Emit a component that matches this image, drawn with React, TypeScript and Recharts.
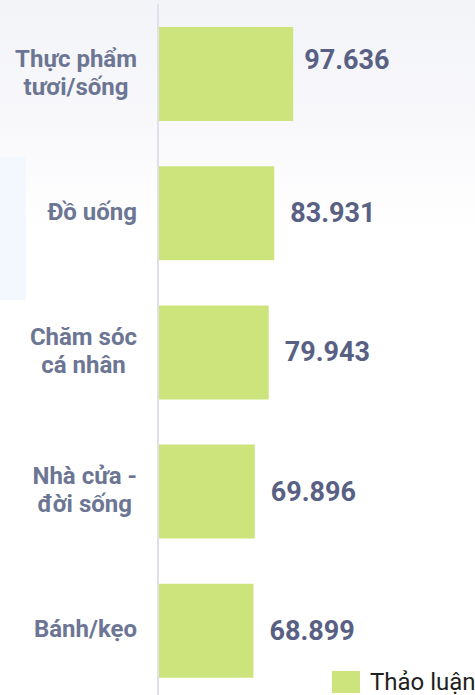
import React from 'react';
import { BarChart, Bar, XAxis, YAxis, LabelList, Legend } from 'recharts';

const categories = ['Thực phẩm tươi/sống', 'Đồ uống', 'Chăm sóc cá nhân', 'Nhà cửa - đời sống', 'Bánh/kẹo'];
const categoryLines = [['Thực phẩm', 'tươi/sống'], ['Đồ uống'], ['Chăm sóc', 'cá nhân'], ['Nhà cửa -', 'đời sống'], ['Bánh/kẹo']];
const discussionValues = [97636, 83931, 79943, 69896, 68899];
const seriesName = 'Thảo luận';

const data = categories.map((c, i) => ({ name: c, value: discussionValues[i] }));

const BAR_COLOR = '#cde47c';
const CAT_COLOR = '#6c7694';
const VAL_COLOR = '#586083';
const FONT = 'Roboto, "Noto Sans", sans-serif';

let ctx: CanvasRenderingContext2D | null = null;
function measure(text: string, font: string): number {
  if (!ctx) ctx = document.createElement('canvas').getContext('2d');
  if (!ctx) return text.length * 12;
  ctx.font = font;
  return ctx.measureText(text).width;
}

const fmt = (v: number) => v.toString().replace(/\B(?=(\d{3})+(?!\d))/g, '.');

const CategoryTick = (props: any) => {
  const { x, y, payload } = props;
  const idx = categories.indexOf(payload.value);
  const lines = idx >= 0 ? categoryLines[idx] : [String(payload.value)];
  const maxW = Math.max(...lines.map((l) => measure(l, 'bold 24px Roboto')));
  const cx = x - maxW / 2;
  const lh = 28;
  const startY = y - ((lines.length - 1) * lh) / 2 - 1;
  return (
    <g>
      {lines.map((l, i) => (
        <text
          key={i}
          x={cx}
          y={startY + i * lh}
          textAnchor="middle"
          dominantBaseline="central"
          fill={CAT_COLOR}
          fontFamily={FONT}
          fontWeight={700}
          fontSize={24}
        >
          {l}
        </text>
      ))}
    </g>
  );
};

const ValueLabel = (props: any) => {
  const { x, y, width, height, value, index } = props;
  const dx = index === 0 ? 11 : 16;
  const dy = index === 0 ? -14 : 0;
  return (
    <text
      x={x + width + dx}
      y={y + height / 2 + dy}
      dominantBaseline="central"
      fill={VAL_COLOR}
      fontFamily={FONT}
      fontWeight={700}
      fontSize={27}
    >
      {fmt(value)}
    </text>
  );
};

const LegendContent = () => (
  <div style={{ display: 'flex', alignItems: 'center', fontFamily: FONT, whiteSpace: 'nowrap', height: 28 }}>
    <div style={{ width: 28, height: 22, background: BAR_COLOR, marginRight: 10 }} />
    <span style={{ fontSize: 24, lineHeight: '28px', color: '#1f1f1f' }}>{seriesName}</span>
  </div>
);

export default function App() {
  return (
    <div
      style={{
        position: 'absolute',
        left: 0,
        top: 0,
        width: 475,
        height: 695,
        overflow: 'hidden',
        background: 'linear-gradient(to bottom, #f3f4f8 0px, #f8f8fb 120px, #fdfdfe 200px, #ffffff 230px)',
      }}
    >
      <div
        style={{ position: 'absolute', left: 0, top: 157, width: 26, height: 143, background: '#f3f7fe' }}
      />
      <div style={{ position: 'absolute', left: 0, top: 0 }}>
        <BarChart
          width={475}
          height={748}
          data={data}
          layout="vertical"
          margin={{ top: 4, right: 40, bottom: 20, left: 0 }}
        >
          <XAxis type="number" domain={[0, 200000]} hide />
          <YAxis
            type="category"
            dataKey="name"
            width={158}
            axisLine={{ stroke: '#dfe1ea', strokeWidth: 2 }}
            tickLine={false}
            tickSize={0}
            tickMargin={21}
            tick={<CategoryTick />}
            interval={0}
          />
          <Legend
            content={<LegendContent />}
            wrapperStyle={{ position: 'absolute', left: 332, top: 668, width: 200, height: 28 }}
          />
          <Bar dataKey="value" name={seriesName} fill={BAR_COLOR} barSize={94} isAnimationActive={false}>
            <LabelList dataKey="value" content={<ValueLabel />} />
          </Bar>
        </BarChart>
      </div>
    </div>
  );
}
